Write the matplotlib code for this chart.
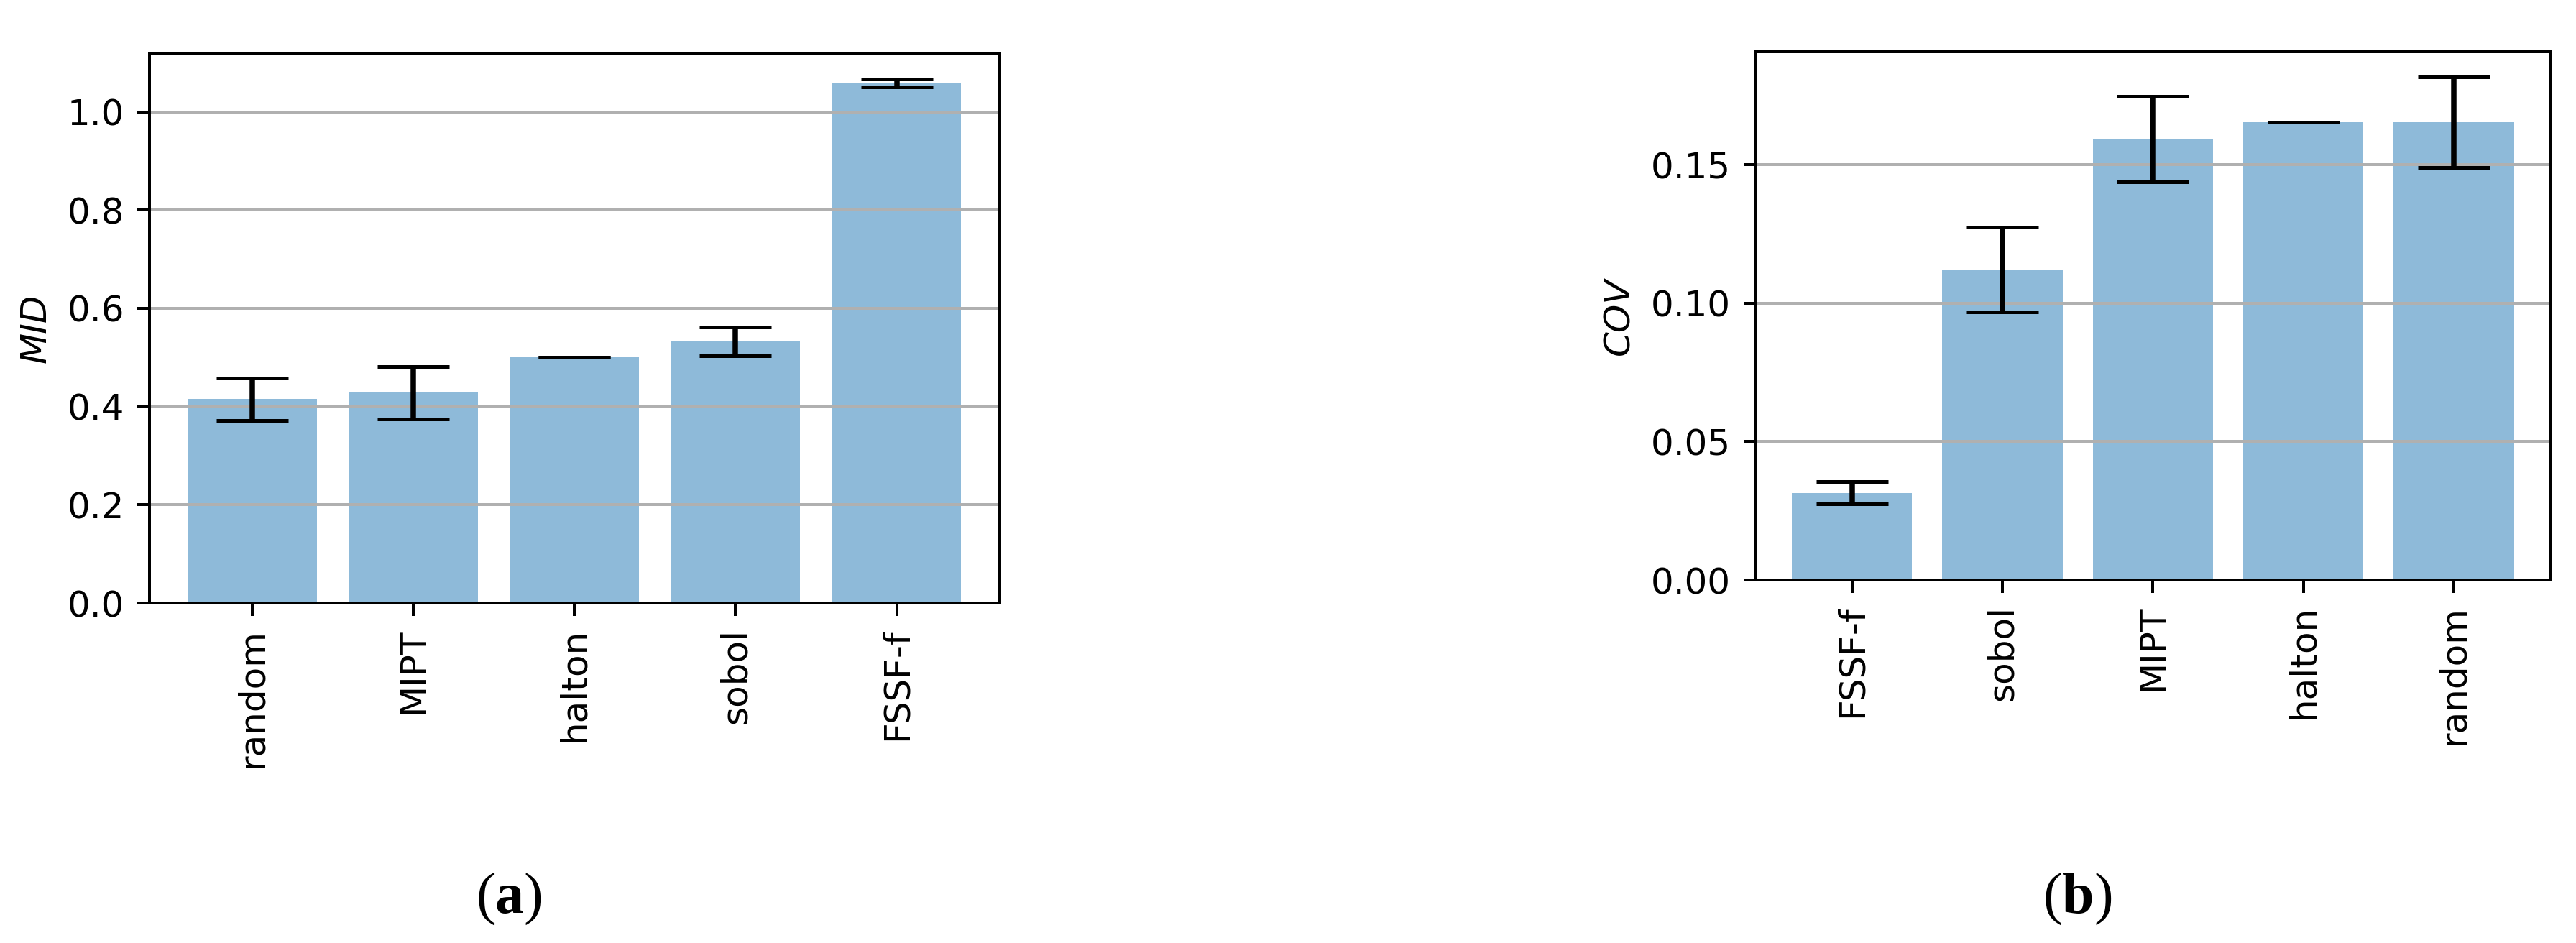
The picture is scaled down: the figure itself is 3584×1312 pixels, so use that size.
import matplotlib
matplotlib.use("Agg")
from matplotlib import pyplot as plt
import numpy as np

# (a) MID per sampling method
mid_methods = ['random', 'MIPT', 'halton', 'sobol', 'FSSF-f']
mid_mean = [0.415, 0.428, 0.500, 0.533, 1.058]
mid_err = [0.043, 0.053, 0.0, 0.029, 0.008]

# (b) COV per sampling method
cov_methods = ['FSSF-f', 'sobol', 'MIPT', 'halton', 'random']
cov_mean = [0.0315, 0.1122, 0.1593, 0.1654, 0.1655]
cov_err = [0.0040, 0.0153, 0.0154, 0.0, 0.0163]

plt.rcParams['mathtext.fontset'] = 'custom'
plt.rcParams['mathtext.rm'] = 'Liberation Serif'
plt.rcParams['mathtext.bf'] = 'Liberation Serif:bold'


def bar_panel(ax, names, means, errs, ylabel):
    x = np.arange(len(names))
    ax.bar(x, means, yerr=errs, align='center', alpha=0.5,
           ecolor='black', capsize=10)
    ax.set_xticks(x)
    ax.set_xticklabels(names, rotation=90)
    ax.set_ylabel(ylabel, style='italic')
    ax.yaxis.grid(True)


fig = plt.figure(figsize=(3584 / 360, 1312 / 360), dpi=360)

ax1 = fig.add_axes([0.0580, 0.3605, 0.3301, 0.5831])
bar_panel(ax1, mid_methods, mid_mean, mid_err, 'MID')

ax2 = fig.add_axes([0.6816, 0.3849, 0.3083, 0.5602])
bar_panel(ax2, cov_methods, cov_mean, cov_err, 'COV')

fig.text(0.1975, 0.047, r'$(\mathbf{a})$', ha='center', va='center', fontsize=16)
fig.text(0.8064, 0.047, r'$(\mathbf{b})$', ha='center', va='center', fontsize=16)

fig.savefig('out.png', dpi=360, facecolor='white')
